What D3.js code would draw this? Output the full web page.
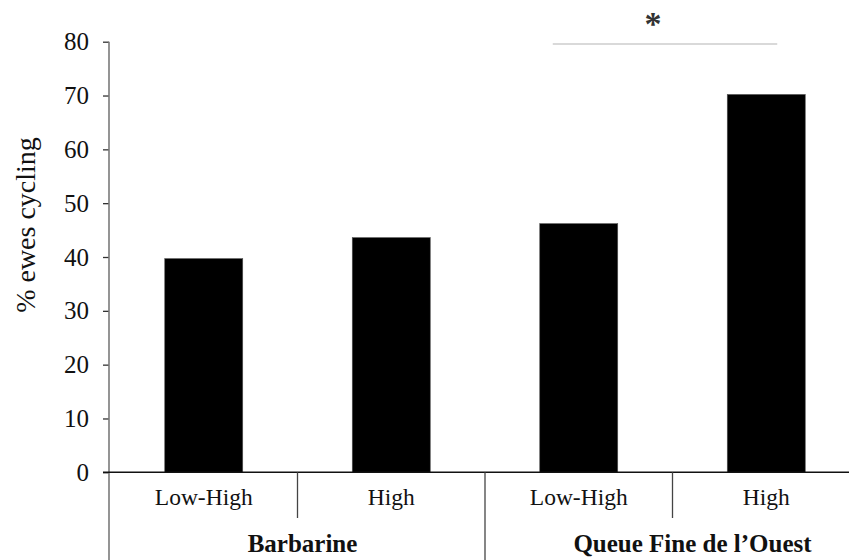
<!DOCTYPE html>
<html>
<head>
<meta charset="utf-8">
<script src="https://cdn.jsdelivr.net/npm/d3@7"></script>
<style>
  body { margin: 0; background: #fff; }
  svg { display: block; font-family: "Liberation Serif", "Times New Roman", serif; }
</style>
</head>
<body>
<svg id="chart" width="849" height="560"></svg>
<script>
// data
var breeds = ["Barbarine", "Barbarine", "Queue Fine de l\u2019Ouest", "Queue Fine de l\u2019Ouest"];
var treatments = ["Low-High", "High", "Low-High", "High"];
var cycling = [39.7, 43.6, 46.2, 70.2];
var groups = ["Barbarine", "Queue Fine de l\u2019Ouest"];
var yTicks = [0, 10, 20, 30, 40, 50, 60, 70, 80];

var svg = d3.select("#chart");
var W = 849, H = 560;
var left = 110, baseY = 472.3, topY = 41.7;

var keys = treatments.map(function (t, i) { return i; });

// x band: one band per bar, wider than the visible frame on the right
var x = d3.scaleBand()
  .domain(keys)
  .range([left, left + 4 * 187.5])
  .paddingInner(0.584)
  .paddingOuter(0.292);

var y = d3.scaleLinear()
  .domain([0, 80])
  .range([baseY, topY]);

// y axis
var yAxis = svg.append("g")
  .attr("transform", "translate(" + (left - 1) + ",0)")
  .call(d3.axisLeft(y).tickValues(yTicks).tickSize(6).tickPadding(14).tickFormat(d3.format("d")));
yAxis.select(".domain").remove();
yAxis.selectAll(".tick line").attr("stroke", "#333").attr("stroke-width", 1.3);
yAxis.selectAll(".tick text")
  .attr("font-size", "25px")
  .attr("font-family", "Liberation Serif, serif")
  .attr("fill", "#111");

// vertical axis line runs down through the category area
svg.append("line")
  .attr("x1", left - 1).attr("x2", left - 1)
  .attr("y1", topY).attr("y2", H)
  .attr("stroke", "#7a7a7a").attr("stroke-width", 1.6);

// bars
svg.selectAll("rect.bar")
  .data(cycling)
  .enter()
  .append("rect")
  .attr("class", "bar")
  .attr("x", function (d, i) { return x(i); })
  .attr("width", x.bandwidth())
  .attr("y", function (d) { return y(d); })
  .attr("height", function (d) { return baseY - y(d); })
  .attr("fill", "#000")
  .attr("stroke", "#555")
  .attr("stroke-width", 0.6);

// baseline
svg.append("line")
  .attr("x1", left - 7).attr("x2", W)
  .attr("y1", baseY).attr("y2", baseY)
  .attr("stroke", "#111").attr("stroke-width", 1.4);

// category separators: short between treatments, long between breeds
var step = x.step();
keys.slice(1).forEach(function (i) {
  var sx = x(i) - x.step() * x.paddingInner() / 2;
  var between = breeds[i] !== breeds[i - 1];
  svg.append("line")
    .attr("x1", sx).attr("x2", sx)
    .attr("y1", baseY).attr("y2", between ? H : 518)
    .attr("stroke", "#444").attr("stroke-width", 1.3);
});

// treatment labels
svg.selectAll("text.cat")
  .data(treatments)
  .enter()
  .append("text")
  .attr("class", "cat")
  .attr("x", function (d, i) { return x(i) + x.bandwidth() / 2; })
  .attr("y", 505)
  .attr("text-anchor", "middle")
  .attr("font-size", "23.5px")
  .attr("fill", "#111")
  .text(function (d) { return d; });

// breed labels
var groupShift = [5, 20];
svg.selectAll("text.grp")
  .data(groups)
  .enter()
  .append("text")
  .attr("class", "grp")
  .attr("x", function (g, gi) {
    var idx = keys.filter(function (i) { return breeds[i] === g; });
    var a = x(idx[0]) - step * x.paddingInner() / 2;
    var b = x(idx[idx.length - 1]) + x.bandwidth() + step * x.paddingInner() / 2;
    return (a + b) / 2 + groupShift[gi];
  })
  .attr("y", 552)
  .attr("text-anchor", "middle")
  .attr("font-size", "25px")
  .attr("font-weight", "bold")
  .attr("fill", "#111")
  .text(function (d) { return d; });

// y axis title
svg.append("text")
  .attr("transform", "translate(35,225) rotate(-90)")
  .attr("text-anchor", "middle")
  .attr("font-size", "28px")
  .attr("fill", "#111")
  .text("% ewes cycling");

// significance bracket between the two QFO bars
var sx1 = x(2) + x.bandwidth() / 2 - 26;
var sx2 = x(3) + x.bandwidth() / 2 + 11;
svg.append("line")
  .attr("x1", sx1).attr("x2", sx2)
  .attr("y1", 44).attr("y2", 44)
  .attr("stroke", "#b3b3b3").attr("stroke-width", 1.2);
svg.append("text")
  .attr("x", (sx1 + sx2) / 2 - 12)
  .attr("y", 35)
  .attr("text-anchor", "middle")
  .attr("font-size", "34px")
  .attr("font-weight", "bold")
  .attr("fill", "#333")
  .text("*");
</script>
</body>
</html>
